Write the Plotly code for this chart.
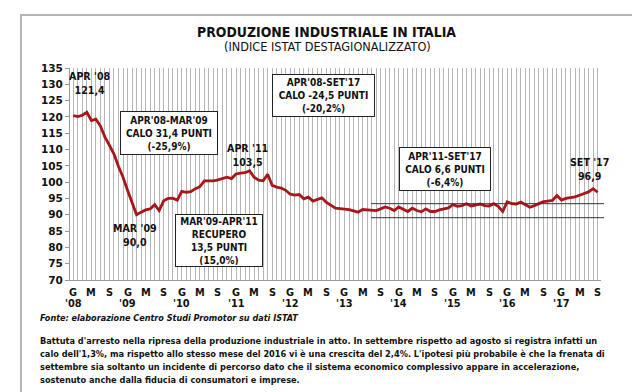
import plotly.graph_objects as go

# ---------------- data (Jan 2008 - Sep 2017, monthly index) ----------------
prod_2008 = [120.4, 120.1, 120.5, 121.4, 118.9, 119.3, 117.2, 113.8, 111.3, 108.6, 104.8, 101.5]
prod_2009 = [97.5, 93.5, 90.0, 90.8, 91.5, 91.8, 93.1, 91.3, 94.3, 95.0, 95.1, 94.5]
prod_2010 = [97.2, 96.9, 97.1, 98.0, 98.6, 100.4, 100.3, 100.4, 100.7, 101.0, 101.5, 101.1]
prod_2011 = [102.5, 102.8, 102.9, 103.5, 101.5, 100.6, 100.4, 102.4, 99.0, 98.5, 98.2, 97.5]
prod_2012 = [96.3, 96.0, 96.2, 94.9, 95.4, 94.2, 94.6, 95.2, 93.8, 92.9, 92.0, 91.9]
prod_2013 = [91.8, 91.6, 91.2, 90.8, 91.6, 91.5, 91.3, 91.3, 91.8, 92.4, 92.0, 91.3]
prod_2014 = [92.4, 91.6, 91.0, 92.0, 91.3, 90.9, 91.8, 91.0, 91.0, 91.5, 91.8, 92.1]
prod_2015 = [93.1, 92.6, 92.8, 93.4, 92.7, 93.0, 93.3, 92.8, 92.7, 93.4, 92.6, 91.0]
prod_2016 = [94.0, 93.4, 93.3, 93.9, 93.2, 92.3, 92.8, 93.3, 94.0, 94.2, 94.4, 95.9]
prod_2017 = [94.5, 95.0, 95.2, 95.5, 96.0, 96.5, 97.0, 98.0, 96.9]

month_letters = ["G", "M", "S"]
year_labels = ["'08", "'09", "'10", "'11", "'12", "'13", "'14", "'15", "'16", "'17"]
y_ticks = [70, 75, 80, 85, 90, 95, 100, 105, 110, 115, 120, 125, 130, 135]
band_levels = [93.4, 89.1]

values = (prod_2008 + prod_2009 + prod_2010 + prod_2011 + prod_2012 +
          prod_2013 + prod_2014 + prod_2015 + prod_2016 + prod_2017)
months = list(range(len(values)))
label_months = list(range(0, len(values), 4))

# ---------------- layout helpers ----------------
W, H = 640, 392
L, R, T, B = 62, 593, 60, 272


def px_x(px):
    return (px - L) / (R - L)


def px_y(py):
    return (B - py) / (B - T)


FONT = "DejaVu Sans Condensed, Liberation Sans, sans-serif"
FONTW = "DejaVu Sans, Liberation Sans, sans-serif"

fig = go.Figure()
fig.add_trace(go.Scatter(
    x=months, y=values, mode="lines",
    line=dict(color="#a8151b", width=2.8),
    hoverinfo="skip", showlegend=False,
))

shapes = []
for lv in band_levels:
    shapes.append(dict(type="line", xref="paper", yref="y",
                       x0=px_x(363), x1=px_x(596), y0=lv, y1=lv,
                       line=dict(color="#333333", width=1)))
shapes.append(dict(type="rect", xref="paper", yref="paper",
                   x0=px_x(13), x1=px_x(625), y0=px_y(390), y1=px_y(7),
                   line=dict(color="#b5b5b5", width=2)))

annotations = []


def label(text, cx, cy, size=10, box=None, font=FONT):
    a = dict(text=text, xref="paper", yref="paper", x=px_x(cx), y=px_y(cy),
             xanchor="center", yanchor="middle", showarrow=False,
             font=dict(family=font, size=size, color="#111111"), align="center")
    if box is not None:
        bw, bh = box
        a.update(bgcolor="white", bordercolor="#222222", borderwidth=1,
                 borderpad=1, width=bw - 4, height=bh - 4)
    annotations.append(a)


label("<b>PRODUZIONE INDUSTRIALE IN ITALIA</b>", 318, 24, size=13.9)
label("(INDICE ISTAT DESTAGIONALIZZATO)", 319, 38.5, size=12.6)

label("<b>APR '08<br>121,4</b>", 82, 74.5, size=10.6)
label("<b>APR '11<br>103,5</b>", 239, 146.5, size=10.6)
label("<b>MAR '09<br>90,0</b>", 127, 227, size=10.6)
label("<b>SET '17<br>96,9</b>", 581, 161, size=10.6)

label("<b>APR'08-MAR'09<br>CALO 31,4 PUNTI<br>(-25,9%)</b>", 160.5, 124.7, size=10, box=(98, 44))
label("<b>APR'08-SET'17<br>CALO -24,5 PUNTI<br>(-20,2%)</b>", 315.7, 87.3, size=10, box=(103, 43))
label("<b>MAR'09-APR'11<br>RECUPERO<br>13,5 PUNTI<br>(15,0%)</b>", 210.8, 232.5, size=10, box=(88, 53))
label("<b>APR'11-SET'17<br>CALO 6,6 PUNTI<br>(-6,4%)</b>", 436.5, 160.5, size=10, box=(92, 44))

for k, m in enumerate(label_months):
    annotations.append(dict(text="<b>" + month_letters[k % 3] + "</b>", xref="x", yref="paper",
                            x=m, y=px_y(284.5), xanchor="center", yanchor="middle",
                            showarrow=False, font=dict(family=FONTW, size=9.8, color="#111111")))
    if k % 3 == 0:
        annotations.append(dict(text="<b>" + year_labels[k // 3] + "</b>", xref="x", yref="paper",
                                x=m, y=px_y(295.5), xanchor="center", yanchor="middle",
                                showarrow=False, font=dict(family=FONTW, size=9.8, color="#111111")))


def left_text(text, x0, cy, size=9.15):
    annotations.append(dict(text=text, xref="paper", yref="paper",
                            x=px_x(x0), y=px_y(cy), xanchor="left", yanchor="middle",
                            showarrow=False, align="left",
                            font=dict(family=FONT, size=size, color="#111111")))


left_text("<b><i>Fonte: elaborazione Centro Studi Promotor su dati ISTAT</i></b>", 30, 310, size=9.0)
comment_lines = [
    "Battuta d'arresto nella ripresa della produzione industriale in atto. In settembre rispetto ad agosto si registra infatti un",
    "calo dell'1,3%, ma rispetto allo stesso mese del 2016 vi è una crescita del 2,4%. L'ipotesi più probabile è che la frenata di",
    "settembre sia soltanto un incidente di percorso dato che il sistema economico complessivo appare in accelerazione,",
    "sostenuto anche dalla fiducia di consumatori e imprese.",
]
for k, line in enumerate(comment_lines):
    left_text("<b>" + line + "</b>", 30, 332.5 + k * 13.3)

fig.update_layout(
    width=W, height=H, autosize=False,
    margin=dict(l=L, r=W - R, t=T, b=H - B, pad=0),
    paper_bgcolor="white", plot_bgcolor="white",
    showlegend=False,
    shapes=shapes, annotations=annotations,
    xaxis=dict(range=[-0.73, 116.75], showticklabels=False,
               tickmode="linear", tick0=0, dtick=1,
               showgrid=True, gridcolor="#b6b6b6", gridwidth=1.3,
               zeroline=False, showline=True, linecolor="#999999", linewidth=1,
               ticks="", fixedrange=True),
    yaxis=dict(range=[70, 135], tickmode="array", tickvals=y_ticks,
               ticktext=[f"<b>{v}</b>" for v in y_ticks],
               showgrid=False, zeroline=False, showline=True, linecolor="#999999", linewidth=1,
               ticks="outside", ticklen=4, tickcolor="#999999",
               tickfont=dict(family=FONTW, size=10.5, color="#111111"), fixedrange=True),
)

fig.write_html("out.html")
